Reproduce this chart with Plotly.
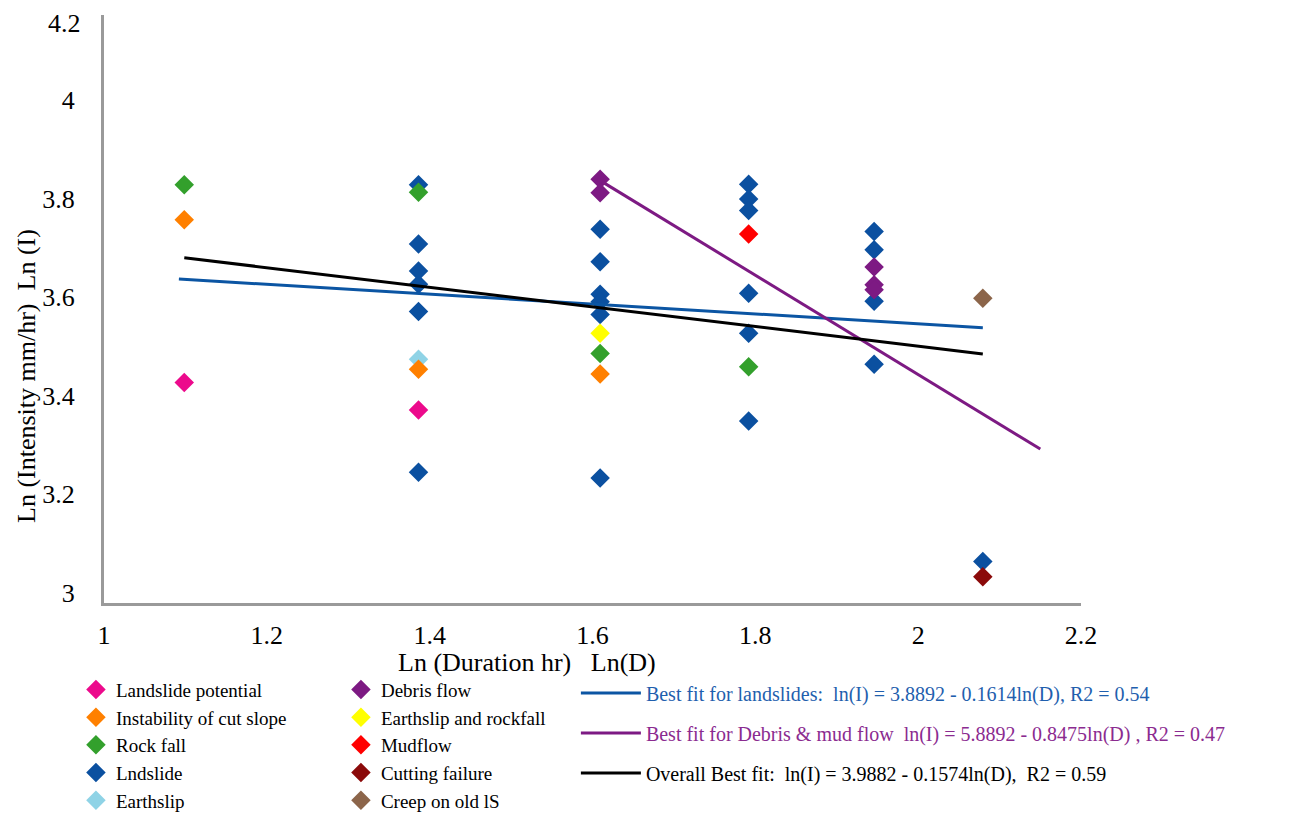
import plotly.graph_objects as go

# ---------------- data ----------------
LN3, LN4, LN5, LN6, LN7, LN8 = 1.0986, 1.3863, 1.6094, 1.7918, 1.9459, 2.0794

landslide_potential_x = [LN3, LN4]
landslide_potential_y = [3.427, 3.371]

cut_slope_x = [LN3, LN4, LN5]
cut_slope_y = [3.757, 3.454, 3.444]

rock_fall_x = [LN3, LN4, LN5, LN6]
rock_fall_y = [3.828, 3.813, 3.486, 3.459]

lndslide_x = [LN4] * 6 + [LN5] * 6 + [LN6] * 6 + [LN7] * 4 + [LN8]
lndslide_y = [3.828, 3.708, 3.653, 3.626, 3.571, 3.245,
              3.738, 3.672, 3.606, 3.591, 3.565, 3.233,
              3.829, 3.799, 3.776, 3.608, 3.527, 3.349,
              3.733, 3.696, 3.592, 3.464,
              3.064]

earthslip_x = [LN4]
earthslip_y = [3.474]

debris_x = [LN5, LN5, LN7, LN7, LN7]
debris_y = [3.839, 3.812, 3.661, 3.625, 3.615]

earthslip_rock_x = [LN5]
earthslip_rock_y = [3.527]

mudflow_x = [LN6]
mudflow_y = [3.728]

cutting_x = [LN8]
cutting_y = [3.033]

creep_x = [LN8]
creep_y = [3.598]

fit_land_x = [1.092, 2.0794]
fit_land_y = [3.637, 3.538]

fit_debris_x = [1.606, 2.150]
fit_debris_y = [3.840, 3.292]

fit_all_x = [1.0986, 2.0794]
fit_all_y = [3.680, 3.485]

y_ticks = [3, 3.2, 3.4, 3.6, 3.8, 4]
y_tick_text = ["3", "3.2", "3.4", "3.6", "3.8", "4"]
x_ticks = [1, 1.2, 1.4, 1.6, 1.8, 2, 2.2]
x_tick_text = ["1", "1.2", "1.4", "1.6", "1.8", "2", "2.2"]

FONT = "Liberation Serif, Times New Roman, serif"
MS = 15
AX_FS = 26

fig = go.Figure()

def scatter(x, y, name, color, legend, rank):
    fig.add_trace(go.Scatter(
        x=x, y=y, mode="markers", name=name,
        marker=dict(symbol="diamond", size=MS, color=color, line=dict(width=0)),
        legend=legend, legendgroup=name, legendrank=rank,
    ))

# draw order (legend order set with legendrank)
scatter(lndslide_x, lndslide_y, "Lndslide", "#0b50a0", "legend", 4)
scatter(earthslip_x, earthslip_y, "Earthslip", "#8fd3e6", "legend", 5)
scatter(landslide_potential_x, landslide_potential_y, "Landslide potential", "#ec0a8c", "legend", 1)
scatter(cut_slope_x, cut_slope_y, "Instability of cut slope", "#ff8000", "legend", 2)
scatter(rock_fall_x, rock_fall_y, "Rock fall", "#33a02c", "legend", 3)
scatter(debris_x, debris_y, "Debris flow", "#7d1a83", "legend2", 6)
scatter(earthslip_rock_x, earthslip_rock_y, "Earthslip and rockfall", "#ffff00", "legend2", 7)
scatter(mudflow_x, mudflow_y, "Mudflow", "#ff0000", "legend2", 8)
scatter(cutting_x, cutting_y, "Cutting failure", "#8b0a0a", "legend2", 9)
scatter(creep_x, creep_y, "Creep on old lS", "#8c654a", "legend2", 10)

SP = "\u00a0"
fig.add_trace(go.Scatter(
    x=fit_land_x, y=fit_land_y, mode="lines",
    line=dict(color="#0b55a3", width=3),
    name='<span style="color:#1f5fae">Best fit for landslides:' + SP * 2 +
         'ln(I) = 3.8892 - 0.1614ln(D), R2 = 0.54</span>',
    legend="legend3", legendgroup="f1", legendrank=11,
))
fig.add_trace(go.Scatter(
    x=fit_debris_x, y=fit_debris_y, mode="lines",
    line=dict(color="#7d1a83", width=3),
    name='<span style="color:#8b2b90">Best fit for Debris &amp; mud flow' + SP * 2 +
         'ln(I) = 5.8892 - 0.8475ln(D) , R2 = 0.47</span>',
    legend="legend3", legendgroup="f2", legendrank=12,
))
fig.add_trace(go.Scatter(
    x=fit_all_x, y=fit_all_y, mode="lines",
    line=dict(color="#000000", width=3),
    name='Overall Best fit:' + SP * 2 + 'ln(I) = 3.9882 - 0.1574ln(D),' + SP * 2 + 'R2 = 0.59',
    legend="legend3", legendgroup="f3", legendrank=13,
))

leg_common = dict(font=dict(family=FONT, size=19, color="#000"),
                  bgcolor="rgba(0,0,0,0)", tracegroupgap=0,
                  xanchor="left", yanchor="top", itemclick=False)

# the page has an 8 px body margin, so the figure is 16 px smaller than the window
fig.update_layout(
    width=1275, height=804,
    paper_bgcolor="white", plot_bgcolor="white",
    margin=dict(l=96, r=202, t=7, b=209, autoexpand=False),
    font=dict(family=FONT, size=AX_FS, color="#000"),
    xaxis=dict(range=[1, 2.2], tickvals=x_ticks, ticktext=x_tick_text,
               showgrid=False, zeroline=False, showline=True,
               linecolor="#9a9a9a", linewidth=3, ticks="",
               ticklabelstandoff=7, tickfont=dict(size=AX_FS)),
    yaxis=dict(range=[2.9797, 4.1724], tickvals=y_ticks, ticktext=y_tick_text,
               showgrid=False, zeroline=False, showline=True,
               linecolor="#9a9a9a", linewidth=3, ticks="",
               ticklabelstandoff=21, tickfont=dict(size=AX_FS)),
    legend=dict(x=-0.0287, y=-0.115, **leg_common),
    legend2=dict(x=0.2425, y=-0.115, **leg_common),
    legend3=dict(x=0.483, y=-0.120, itemwidth=60,
                 **{**leg_common, "font": dict(family=FONT, size=20, color="#000"),
                    "tracegroupgap": 11}),
    showlegend=True,
)

fig.add_annotation(text="4.2", x=-0.0215, xref="paper", xanchor="right",
                   y=4.156, yref="y", yanchor="middle", showarrow=False,
                   font=dict(family=FONT, size=AX_FS, color="#000"))
fig.add_annotation(text="Ln (Duration hr)" + SP * 3 + "Ln(D)",
                   x=(527 - 104) / 977, xref="paper", xanchor="center",
                   y=(603 - 662) / 588, yref="paper", yanchor="middle", showarrow=False,
                   font=dict(family=FONT, size=AX_FS, color="#000"))
fig.add_annotation(text="Ln (Intensity mm/hr)" + SP * 2 + "Ln (I)", textangle=-90,
                   x=(26 - 104) / 977, xref="paper", xanchor="center",
                   y=(603 - 376) / 588, yref="paper", yanchor="middle", showarrow=False,
                   font=dict(family=FONT, size=AX_FS, color="#000"))

fig.write_html("out.html")
